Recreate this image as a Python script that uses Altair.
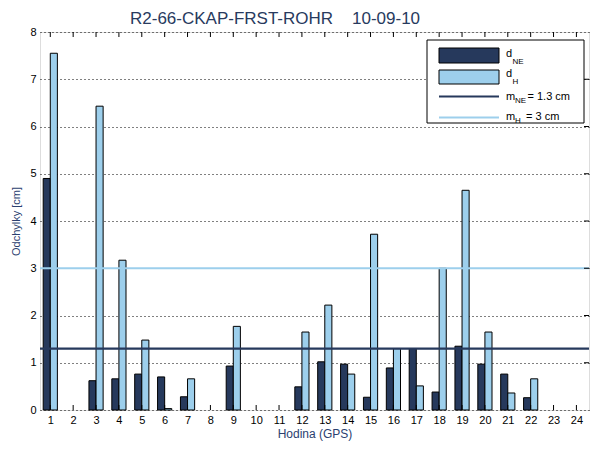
import altair as alt
import pandas as pd

# Hourly deviations (cm) for each GPS hour
hours = list(range(1, 25))
d_ne = [4.90, None, 0.62, 0.66, 0.76, 0.70, 0.28, None, 0.93, None, None, 0.49,
        1.02, 0.97, 0.27, 0.89, 1.30, 0.38, 1.35, 0.97, 0.76, 0.26, None, None]
d_h = [7.55, None, 6.43, 3.17, 1.48, 0.03, 0.66, None, 1.77, None, None, 1.65,
       2.22, 0.76, 3.72, 1.30, 0.51, 3.00, 4.65, 1.65, 0.36, 0.66, None, None]
m_ne = 1.3
m_h = 3.0
y_ticks = [0, 1, 2, 3, 4, 5, 6, 7, 8]

DARK = "#26395c"
LIGHT = "#9dcfec"
NAVY = "#2b4170"
FONT = "Liberation Sans"
W, H = 549, 378
BAR_W = 0.31

df = pd.DataFrame({"hour": hours, "d_ne": d_ne, "d_h": d_h})
hours_df = pd.DataFrame({"hour": hours})
grid_df = pd.DataFrame({"v": y_ticks[1:-1]})
one = pd.DataFrame({"k": [0]})

xscale = alt.Scale(domain=[0.55, 24.55], nice=False, zero=False)
yscale = alt.Scale(domain=[0, 8], nice=False)

base = alt.Chart(df)

x_axis = alt.Axis(values=hours, format="d", tickSize=0, domain=False, grid=False,
                  labelOverlap=False, labelFontSize=11, labelFont=FONT,
                  labelColor="black", labelPadding=4, title="Hodina (GPS)",
                  titleFont=FONT, titleFontSize=12, titleFontWeight="normal",
                  titleColor=NAVY, titlePadding=3)
y_axis = alt.Axis(values=y_ticks, tickSize=0, domain=False, grid=True,
                  gridColor="black", gridDash=[1, 3], gridWidth=1,
                  labelOverlap=False, labelFontSize=11, labelFont=FONT,
                  labelColor="black", labelPadding=4, title="Odchylky [cm]",
                  titleFont=FONT, titleFontSize=11, titleFontWeight="normal",
                  titleColor=NAVY, titlePadding=8)

bars_ne = base.transform_filter("isValid(datum.d_ne)").transform_calculate(
    x0=f"datum.hour - {BAR_W}", x1="datum.hour"
).mark_bar(color=DARK, stroke="black", strokeWidth=1).encode(
    x=alt.X("x0:Q", scale=xscale, axis=x_axis),
    x2="x1:Q",
    y=alt.Y("d_ne:Q", scale=yscale, axis=y_axis),
    y2=alt.datum(0),
)

bars_h = base.transform_filter("isValid(datum.d_h)").transform_calculate(
    x0="datum.hour", x1=f"datum.hour + {BAR_W}"
).mark_bar(color=LIGHT, stroke="black", strokeWidth=1).encode(
    x=alt.X("x0:Q", scale=xscale, axis=x_axis),
    x2="x1:Q",
    y=alt.Y("d_h:Q", scale=yscale, axis=y_axis),
    y2=alt.datum(0),
)

mean_ne = alt.Chart(pd.DataFrame({"m": [m_ne]})).mark_rule(
    color=DARK, strokeWidth=2.2).encode(
    y=alt.Y("m:Q", scale=yscale, axis=y_axis), x=alt.value(0), x2=alt.value(W))
mean_h = alt.Chart(pd.DataFrame({"m": [m_h]})).mark_rule(
    color=LIGHT, strokeWidth=2.2).encode(
    y=alt.Y("m:Q", scale=yscale, axis=y_axis), x=alt.value(0), x2=alt.value(W))

# inward tick marks on the box
ticks_bottom = alt.Chart(hours_df).mark_rule(color="black", strokeWidth=1).encode(
    x=alt.X("hour:Q", scale=xscale, axis=x_axis), y=alt.value(H), y2=alt.value(H - 5))
ticks_top = alt.Chart(hours_df).mark_rule(color="black", strokeWidth=1).encode(
    x=alt.X("hour:Q", scale=xscale, axis=x_axis), y=alt.value(0), y2=alt.value(5))
ticks_right = alt.Chart(grid_df).mark_rule(color="black", strokeWidth=1).encode(
    y=alt.Y("v:Q", scale=yscale, axis=y_axis), x=alt.value(W - 5), x2=alt.value(W))

# title
title1 = alt.Chart(one).mark_text(
    text="R2-66-CKAP-FRST-ROHR", align="left", baseline="alphabetic",
    font=FONT, fontSize=17, fontWeight="normal", color="#283a5e").encode(
    x=alt.value(90), y=alt.value(-8))
title2 = alt.Chart(one).mark_text(
    text="10-09-10", align="left", baseline="alphabetic",
    font=FONT, fontSize=17, fontWeight="normal", color="#283a5e").encode(
    x=alt.value(312), y=alt.value(-8))

# legend box
leg_box = alt.Chart(one).mark_rect(fill="white", stroke="black", strokeWidth=1).encode(
    x=alt.value(387), x2=alt.value(544), y=alt.value(8), y2=alt.value(91))
leg_p1 = alt.Chart(one).mark_rect(fill=DARK, stroke="black", strokeWidth=1).encode(
    x=alt.value(399), x2=alt.value(459), y=alt.value(16), y2=alt.value(31))
leg_p2 = alt.Chart(one).mark_rect(fill=LIGHT, stroke="black", strokeWidth=1).encode(
    x=alt.value(399), x2=alt.value(459), y=alt.value(38), y2=alt.value(52))
leg_l1 = alt.Chart(one).mark_rule(color=DARK, strokeWidth=2.2).encode(
    x=alt.value(399), x2=alt.value(459), y=alt.value(64.5))
leg_l2 = alt.Chart(one).mark_rule(color=LIGHT, strokeWidth=2.2).encode(
    x=alt.value(399), x2=alt.value(459), y=alt.value(85.5))


def txt(s, x, y, size=11):
    return alt.Chart(one).mark_text(
        text=s, align="left", baseline="alphabetic", font=FONT,
        fontSize=size, color="black").encode(x=alt.value(x), y=alt.value(y))


legend_text = [
    txt("d", 466, 24.5), txt("NE", 472.5, 32, 8),
    txt("d", 466, 44.5), txt("H", 472.5, 52, 8),
    txt("m", 466, 67.5), txt("NE", 475, 70.5, 8), txt("= 1.3 cm", 487.5, 67.5),
    txt("m", 466, 88), txt("H", 475, 90.5, 8), txt("= 3 cm", 486, 88),
]

chart = alt.layer(
    bars_ne, bars_h, mean_ne, mean_h, ticks_bottom, ticks_top, ticks_right,
    title1, title2, leg_box, leg_p1, leg_p2, leg_l1, leg_l2, *legend_text
).properties(
    width=W, height=H,
    autosize=alt.AutoSizeParams(type="none"),
    padding={"left": 40, "top": 32, "right": 11, "bottom": 40},
).configure_view(
    stroke="black", strokeWidth=1
).configure_axis(
    labelOverlap=False
).configure(background="white")

chart.save("out.html", embed_options={"renderer": "svg", "actions": False})
